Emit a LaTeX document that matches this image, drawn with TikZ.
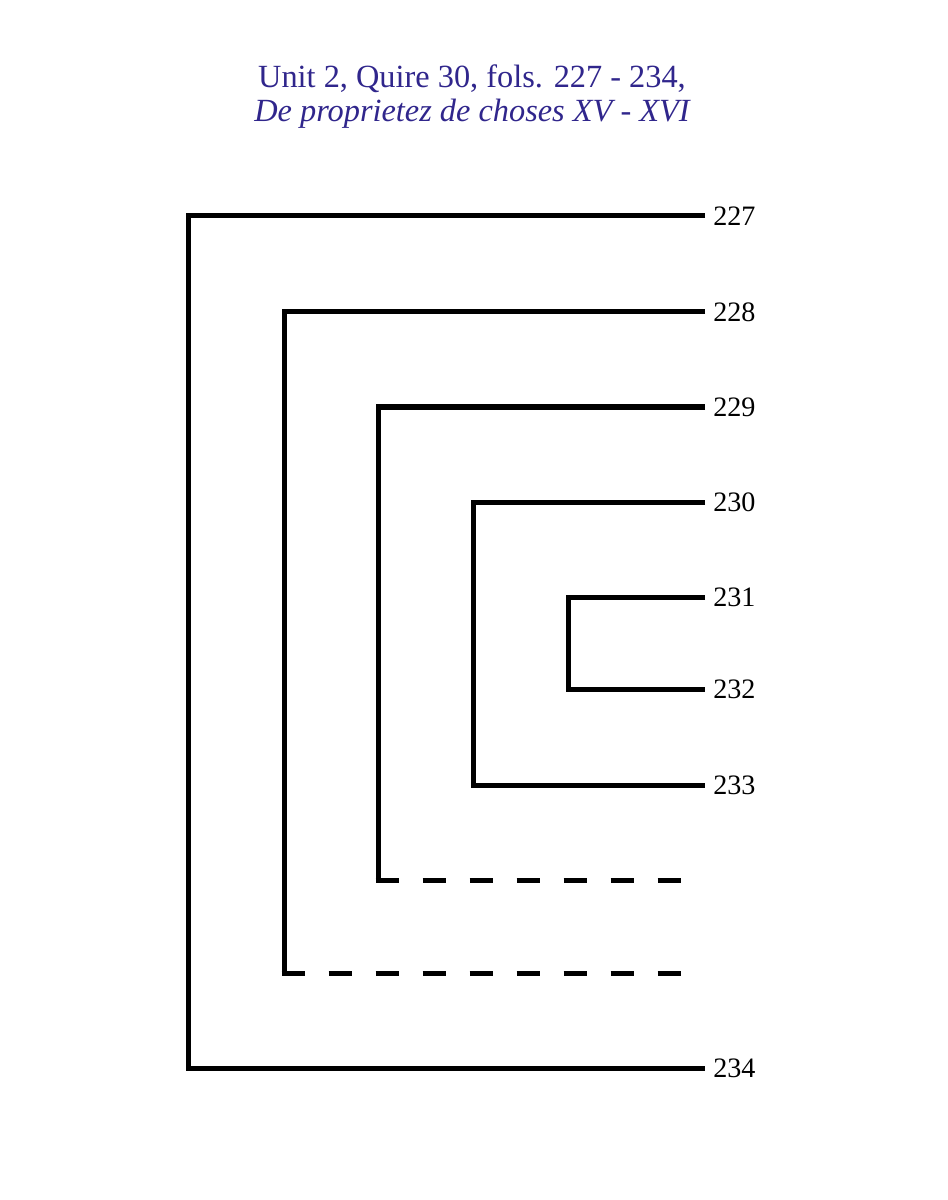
\documentclass[tikz,border=0pt]{standalone}
\usepackage{fontspec}
\setmainfont{Liberation Serif}
\usepackage{xcolor}
\usepackage{tikz}
\usetikzlibrary{positioning}
\definecolor{titleblue}{RGB}{48,38,140}

\begin{document}
\begin{tikzpicture}[
  x=0.025cm, y=-0.025cm,
  bar/.style={draw=black, line width=0.125cm},
  gapline/.style={bar, dash pattern=on 0.575cm off 0.6cm},
  leaf/.style={anchor=west, inner xsep=0.2cm, inner ysep=0pt,
               font=\fontsize{20}{24}\selectfont},
  ttl/.style={text=titleblue, font=\fontsize{23}{27}\selectfont},
]
  \useasboundingbox (0,0) rectangle (947,1200);

  \node[ttl] (t1) at (472,79) {Unit 2, Quire 30, fols. 227 - 234,};
  \node[ttl, font=\fontsize{23}{27}\selectfont\itshape] (t2) at (472,114) {De proprietez de choses XV - XVI};

  \node[leaf] (f227) at (705,216)  {227};
  \node[leaf] (f228) at (705,312)  {228};
  \node[leaf] (f229) at (705,407)  {229};
  \node[leaf] (f230) at (705,502)  {230};
  \node[leaf] (f231) at (705,597)  {231};
  \node[leaf] (f232) at (705,689)  {232};
  \node[leaf] (f233) at (705,785)  {233};
  \node[leaf] (f234) at (705,1068) {234};

  \coordinate (b1) at (188,216);
  \coordinate (b5) at (473,502);
  \coordinate (b6) at (568,597);
  \coordinate (k228) at (284,973);
  \coordinate (e228) at (683,973);
  \coordinate (k229) at (378,880);
  \coordinate (e229) at (683,880);

  \draw[bar] (f227.west) -- (b1) |- (f234.west);
  \draw[bar] (f228.west) -| (k228);
  \draw[gapline] ([xshift=-0.0625cm]k228) -- (e228);
  \draw[bar] (f229.west) -| (k229);
  \draw[gapline] ([xshift=-0.0625cm]k229) -- (e229);
  \draw[bar] (f230.west) -- (b5) |- (f233.west);
  \draw[bar] (f231.west) -- (b6) |- (f232.west);
\end{tikzpicture}
\end{document}
